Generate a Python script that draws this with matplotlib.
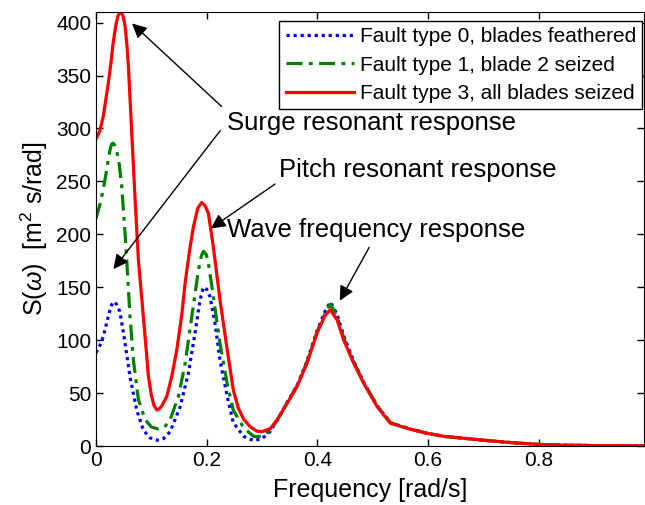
import numpy as np
import matplotlib
matplotlib.use("Agg")
import matplotlib.pyplot as plt

plt.rcParams['font.family'] = ['Liberation Sans', 'DejaVu Sans']
plt.rcParams['mathtext.fontset'] = 'custom'
plt.rcParams['mathtext.rm'] = 'Liberation Sans'
plt.rcParams['mathtext.it'] = 'Liberation Sans:italic'

# fault type 0, blades feathered
f0 = [0.0, 0.007, 0.013, 0.022, 0.027, 0.031, 0.034, 0.037, 0.043, 0.048, 0.0525, 0.0615,
      0.0736, 0.0856, 0.097, 0.104, 0.11, 0.116, 0.122, 0.134, 0.152, 0.167, 0.179,
      0.188, 0.194, 0.2, 0.206, 0.215, 0.224, 0.237, 0.248, 0.267, 0.285, 0.3, 0.315,
      0.327, 0.345, 0.363, 0.381, 0.3995, 0.4145, 0.4235, 0.4357, 0.4476, 0.4657,
      0.4838, 0.508, 0.532, 0.568, 0.598, 0.63, 0.67, 0.71, 0.755, 0.8, 0.85, 0.9, 1.0]
s0 = [88, 95, 103, 122, 132, 136, 136, 134, 127, 112, 97, 65,
      34, 15, 8, 6, 5.5, 6, 7, 13.5, 37, 69, 107,
      138, 150, 148, 141, 116, 81, 47, 22, 9, 5, 7, 14,
      24, 41, 57, 80, 109, 128, 136, 124, 104, 80,
      60, 38, 22, 16, 12, 9, 7, 5, 3, 1.5, 0.8, 0.4, 0.2]

# fault type 1, blade 2 seized
f1 = [0.0, 0.007, 0.013, 0.018, 0.022, 0.025, 0.028, 0.031, 0.034, 0.037, 0.042, 0.0465,
      0.0525, 0.0555, 0.0615, 0.0676, 0.0766, 0.0887, 0.1, 0.113, 0.124, 0.134, 0.149,
      0.161, 0.173, 0.185, 0.19, 0.194, 0.199, 0.203, 0.212, 0.224, 0.237, 0.248,
      0.267, 0.285, 0.3, 0.315, 0.327, 0.345, 0.363, 0.381, 0.3995, 0.4145, 0.4235,
      0.4357, 0.4476, 0.4657, 0.4838, 0.508, 0.532, 0.568, 0.598, 0.63, 0.67, 0.71,
      0.755, 0.8, 0.85, 0.9, 1.0]
s1 = [215, 228, 242, 257, 270, 279, 285, 286, 284, 280, 266, 245,
      201, 176, 122, 81, 44, 25, 18, 16, 18, 25, 47,
      78, 122, 166, 179, 184, 181, 173, 141, 97, 59, 34,
      17, 9, 9, 15, 24, 40.5, 56.5, 79, 108, 126, 134,
      122, 102, 79, 60, 38, 22, 16, 12, 9, 7, 5,
      3, 1.5, 0.8, 0.4, 0.2]

# fault type 3, all blades seized
f3 = [0.0, 0.007, 0.013, 0.0223, 0.027, 0.031, 0.036, 0.04, 0.045, 0.049, 0.0525, 0.056,
      0.0585, 0.0646, 0.0706, 0.0766, 0.0856, 0.0947, 0.1, 0.105, 0.11, 0.114, 0.119,
      0.128, 0.137, 0.146, 0.155, 0.161, 0.17, 0.176, 0.184, 0.191, 0.197, 0.203,
      0.212, 0.224, 0.237, 0.248, 0.257, 0.267, 0.279, 0.291, 0.3, 0.315, 0.327,
      0.345, 0.363, 0.381, 0.3995, 0.4145, 0.4235, 0.4357, 0.4476, 0.4657, 0.4838,
      0.508, 0.532, 0.568, 0.598, 0.63, 0.67, 0.71, 0.755, 0.8, 0.85, 0.9, 1.0]
s3 = [290, 298, 311, 343, 362, 381, 398, 407, 410, 406, 397, 378,
      359, 296, 233, 176, 122, 66, 48, 38, 34, 35, 38,
      47, 66, 91, 124, 154, 188, 207, 225, 230, 227, 220,
      188, 138, 91, 53, 36, 25, 18, 14, 13.5, 16.5, 24.6,
      40, 56, 78, 107, 124, 128.6, 119, 100, 78, 59,
      37, 21.5, 15.8, 12, 9, 7, 5, 3, 1.5, 0.8, 0.4, 0.2]

labels = ['Fault type 0, blades feathered',
          'Fault type 1, blade 2 seized',
          'Fault type 3, all blades seized']

fig = plt.figure(figsize=(6.45, 5.05), dpi=100)
ax = fig.add_axes([96/645, 1 - 446/505, 548/645, 434/505])

ax.plot(f0, s0, color='#0000ff', ls=(0, (1, 1.2)), lw=2.3, label=labels[0])
ax.plot(f1, s1, color='#008000', ls=(0, (5, 2, 1.2, 2)), lw=2.3, label=labels[1])
ax.plot(f3, s3, color='#ff0000', ls='-', lw=2.3, label=labels[2])

ax.set_xlim(0, 0.99)
ax.set_ylim(0, 410)
ax.set_xticks([0, 0.2, 0.4, 0.6, 0.8])
ax.set_xticklabels(['0', '0.2', '0.4', '0.6', '0.8'])
ax.set_yticks(range(0, 401, 50))
ax.tick_params(direction='in', top=True, right=True, length=5, labelsize=15, width=1)
ax.set_xlabel('Frequency [rad/s]', fontsize=18, labelpad=6)
ax.set_ylabel(r'S($\omega$)  [m$^2$ s/rad]', fontsize=18)

leg = ax.legend(loc='upper right', bbox_to_anchor=(642/645, 1 - 21/505),
                bbox_transform=fig.transFigure, borderaxespad=0, fontsize=15,
                fancybox=False, edgecolor='black', framealpha=1,
                handlelength=3.3, handletextpad=0.25, labelspacing=0.45, borderpad=0.3)
leg.get_frame().set_linewidth(1)

arr = dict(arrowstyle='-|>', color='black', lw=1, mutation_scale=22)
ax.text(0.237, 305, 'Surge resonant response', fontsize=18.5, va='center', ha='left')
ax.annotate('', xy=(0.0615, 401), xytext=(0.2305, 319), arrowprops=arr)
ax.annotate('', xy=(0.0284, 165), xytext=(0.2275, 300), arrowprops=arr)
ax.text(0.331, 261, 'Pitch resonant response', fontsize=18.5, va='center', ha='left')
ax.annotate('', xy=(0.2033, 204), xytext=(0.3276, 249), arrowprops=arr)
ax.text(0.237, 204, 'Wave frequency response', fontsize=18.5, va='center', ha='left')
ax.annotate('', xy=(0.438, 135), xytext=(0.496, 190), arrowprops=arr)

fig.savefig('out.png', dpi=100)
